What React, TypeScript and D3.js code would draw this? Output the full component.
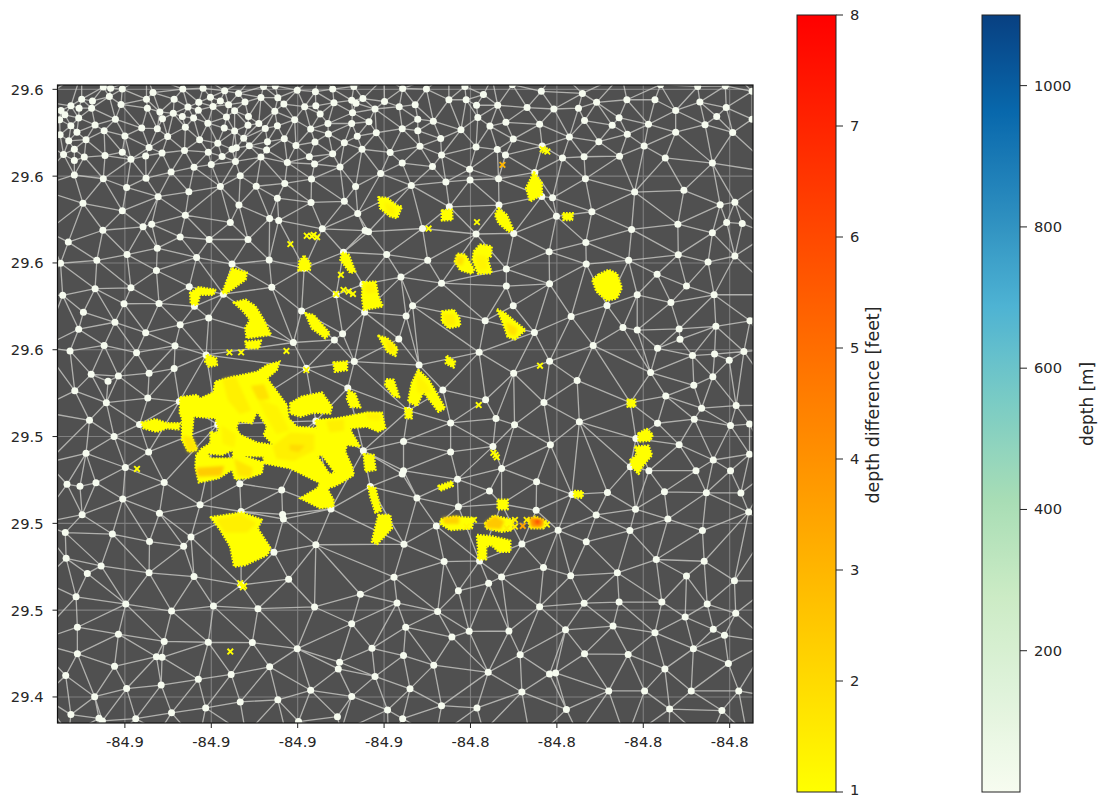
import React from "react";
import * as d3 from "d3";

// Positions are milli-degree offsets from (-84.9, 29.5).
const LON0 = -84.9;
const LAT0 = 29.5;
const lonLimits = [-84.9356, -84.7746];
const latLimits = [29.431, 29.6515];
const lonTicks = [-84.92, -84.9, -84.88, -84.86, -84.84, -84.82, -84.8, -84.78];
const latTicks = [29.44, 29.47, 29.5, 29.53, 29.56, 29.59, 29.62, 29.65];
const diffTicks = [1, 2, 3, 4, 5, 6, 7, 8];
const depthTicks = [200, 400, 600, 800, 1000];
const diffRange = [1, 8];
const depthRange = [0, 1100];
const nodeDepth = 8;

const nodesNorthWest = [
-25,150.8,-23.3,150.4,-20.6,150.1,-23.6,147.5,-13.5,148.9,-6.6,150.1,-1.9,150.4,3.1,149.5,6.3,148.6,12.1,151,14.8,151.2,19.9,149.7,24.1,149.2,28.1,150.1,33,151,
-30,146.6,-27.5,146,-32.5,144.3,-30.6,143.5,-27.7,143.5,-20.9,144.8,-15,146.6,-14.8,143.5,-8.6,146.6,-5.4,143.9,-2.9,145.5,-0.2,147.3,2.1,146,4,144.7,0.4,144.1,7.8,145.6,11.5,147.2,15.4,147.1,16.8,144.9,14.7,142.4,21.6,144,24.2,144.3,28.4,145.4,32.5,146.2,33.5,145.2,35.1,146.8,40.1,145.8,43.5,144,
-34.8,142.7,-33.9,141.2,-35.1,139.5,-30.7,140.1,-26.9,137.7,-22.2,139.7,-11.9,142.2,-8.8,141.7,-3,142.8,-6.7,140.6,-11.3,139.8,-4.1,140.1,3.5,140.4,5.4,142.6,8.6,140.6,25.2,141.5,32.7,141.9,37.9,143.2,19.3,139.5,8.5,137.6,11,138.2,-0.8,138.3,12.5,136.5,15.3,137.4,27,138.2,32.5,138.2,36.5,138.8,
-32.5,137.4,-35,134.3,-31.1,135.2,-24.8,135.7,-16.1,136.6,-12.5,136.4,-6,136.9,3,136.6,5.4,135.6,23,136.3,27.1,134.6,33.8,133.8,38.2,135,-20,133.9,-10.1,133.7,7.5,133.1,16.9,132.9,13,131.9,-2.7,132.6,
-29,132.6,-33,132.2,-31.7,129.3,-34.2,127.5,-29.4,126.6,-31.7,125.4,-24.6,127.1,-20.6,128.3,-18.6,125.8,-14.4,129.9,-15.2,127,-11.4,128,-6.2,128.9,1.5,131.4,-0.7,128.3,2.5,126.8,4.8,129.3,5.8,129.8,8.8,130.5,12.8,129,11.5,126.6,19.6,130.6,24,131.8,30.8,131.5,34.9,129.3,28.1,127.7,22.7,126.7,41.4,128.2,
5.6,125.1,0,124,-4,123.1,17.6,124.7,23.9,124.2,29.8,123.2,-9.3,121.4,-31.7,120.4,-25,119.1,-15.1,119.3,6.7,120.1,39.2,120.9,23.2,119,17,117.5,10.4,116.5,2.1,116.4,-19.6,116.1,-5.2,114.6,33.4,116.4,
-12.3,112.9,15.3,112.4,-29.7,110.6,6.4,110,23.1,110.9,30.8,111.3,-20.6,108,-6,106.5,33.9,107.1,13.5,105.4,15.6,104.7,4.4,104,-13.8,103.4,-15.8,102.5,-25.1,101.3,35.6,101.2,36.4,100.8,25.7,101.8,-7.2,99,-0.5,98.1,8.5,98.1,-33.1,97.2,-12.5,95.1,-19.5,92.9,-3.4,91.9,-26.5,90.9,13.4,91,4.8,89.6,-34.9,89.9,-12.7,87.4,30.6,93.7,40.6,92.9,21.5,88.2,
-26.9,81.1,-18.6,81.4,-5.1,81.8,14,81.6,35.1,82.6,-34.4,78.8,-20.2,75.9,-12.1,76,2.8,79.2,28.9,79,-3.9,75,-29.6,73,20.9,73.4,35.5,73,-0.6,71,
];

const nodesNorthEast = [
44.3,150.3,49.8,150.1,58.7,151,63,148.2,69.7,151.6,76.4,149.3,85.9,148.6,104,151.6,112.6,151,119,151.2,125.2,149.3,
55,146.4,59,146.4,47.2,144.7,61.4,144.5,66.3,144.5,73.1,143.7,79.3,143.2,85,143.5,89.2,145.5,96.2,146.4,102.7,146.4,107.5,142.7,113.1,145.6,119.2,143.7,117,140.6,
47.8,139.7,51.4,139,61.7,140.3,64.5,137.3,68.2,138.6,76,137.9,86.4,139.2,92.8,137.6,94.4,140.2,101.2,137.9,114.3,137.8,125.2,139.7,
44.2,136.4,47.8,135.7,57.8,136,53.1,133,69.9,132.8,82.9,133.5,89.7,131.9,96.3,134.5,107.5,135.2,120.7,135.1,
48.3,130.3,53.3,127.3,61.3,130.1,66.2,129.2,68.1,127.3,76.6,130.4,81.3,126.3,86.3,126.7,94.5,126.9,100.2,130.4,105.1,126.3,116,124.5,
44.2,124.5,51.2,123.3,59.8,122.4,74.9,121.3,66.5,119.1,59.9,118.7,54.3,118,46.3,116.8,86.6,119.1,98,114.5,109.4,115.1,
76.5,113,79,112.5,66.6,110,55.1,109.4,117.8,110.1,121.2,111,79.9,106.1,88.1,107.7,97.3,101.6,108,103.4,116,100.4,119.3,104,122.9,103.6,
48.9,101.9,61.3,100,70,100.2,86.7,97.1,78.2,93.9,108.1,92.8,121.2,92.4,50.1,90.9,86.8,89.6,96.6,90.9,115,90.3,43.9,85.1,103.2,86.1,53.3,83,68.3,87.9,68.3,82,78.3,82.8,110,82,98.6,79,116.4,79,106.4,76.3,91.6,75.3,46.6,75.2,69.9,75.2,83.3,71.5,45.1,71.7,
];

const nodesMiddleWest = [
-30.7,67.1,-22.3,69.5,-15.2,65.9,-7.2,68.6,30.4,65.5,43.4,63.7,19,62.5,28.5,63.4,-24.8,61.5,-32.7,59.6,-17.3,59,-8.4,61.4,-1.2,58.2,-27.8,51.5,-14.4,51.9,-8.6,53.5,-23.9,49.1,-21.5,50.9,33.1,55.9,22,53.6,-31.6,45.8,-14.7,43.3,-24.3,41.7,31.6,46.8,-28.2,35.6,-7.4,42.1,-16.6,34.2,-22.5,30,24.2,35.4,1.5,34.2,-29,24.2,-14.5,24.7,35.2,25.1,-19.9,19.3,-33.4,13.5,-30.4,12.8,-26.7,14,-10.9,14.1,6.6,13.7,16.3,11.5,36.8,12.7,-2.6,6.4,-20.5,8.4,-12,3.5,-29.9,3,6.9,4.1,16.5,3.1,16.7,1.5,27.7,5,-33.8,-3.2,-22.9,-3.7,-4.7,-4.7,-14.3,-6.3,-6.4,-7.9,24.2,-7.4,14.5,-10,
];

const nodesMiddleEast = [
63.4,70,74.8,66,95.3,67.7,98.6,66.8,108.3,67.2,116.8,68.1,108.5,63.6,103.3,60.5,88.4,61.5,124.7,70,62,59.1,111.4,58,116.5,58.5,123.3,59.4,119.9,56.4,48.1,54.7,78.3,56,70,51.9,101.7,52.1,84.7,49.4,116.1,50.7,111.7,47.7,53.6,46.1,105.2,44,63.5,42.7,77,41.8,97,41.7,113.5,39.8,121.5,40.7,45.6,39,65.9,36.2,55.4,34.7,70.2,34.1,85.2,35.1,103.3,34.6,111.8,36,120.2,33.8,124.6,34.3,44.5,28.3,78.5,27.2,65.2,26.6,98.3,29.3,108.3,27.2,55.4,24.7,124.6,23.9,116.2,21.9,67.2,19,44.5,18.2,44.2,17.1,97,19.6,101.3,18.2,112.2,18.2,120.2,18.2,57,15.2,75.3,14.4,64.4,11.2,83.5,10,91.7,10.7,104.9,10.9,114.6,10.6,122.6,10.5,47.6,8.8,57.2,5.7,75.2,4.5,98.2,4.9,89.1,2.9,105.7,1.5,124.4,3.9,52.1,-0.9,80.3,-2.4,96.9,-2.5,113.7,-2.5,86.8,-6.4,71.9,-7.1,44.6,-7.2,67.2,6.7,
];

const nodesSouthWest = [
-33.6,-12.1,-25.5,-14.7,-28.7,-17.3,-14.4,-17.1,-4,-18.4,17.9,-19.3,42.3,-18.6,6.9,-21.3,34.5,-24.5,-31.3,-25.4,-19.8,-27.9,0.5,-28.6,10.8,-29.5,23.9,-28.9,-9.2,-30.3,43,-27.5,-31,-35.9,32.5,-34.7,-21.5,-38.3,-10.9,-40.8,-0.7,-41.1,9.5,-41.2,19.9,-43.3,37.2,-43.2,-31,-45.1,-12.7,-46.1,-11.4,-46.3,-22.4,-49.4,29.7,-48,29.4,-50.3,13.5,-49.6,-33.7,-52.6,4.6,-52.2,-3,-53.9,37.9,-52.9,-11.6,-55.9,-19.6,-57.1,23,-57.7,-27,-59.9,32.5,-59.8,6.7,-61.7,15.4,-61,-1.3,-63.8,-32.5,-66.1,-26,-67.4,-25.2,-68.3,-17.5,-67.5,-9.2,-65.5,29.2,-66.8,40.8,-64.5,20.2,-68.5,
];

const nodesSouthEast = [
53.9,-13.2,62.1,-13,76.9,-15.3,83.2,-18.1,94,-17.1,103,-12.5,114.1,-13.1,110,-18.2,121.1,-19.8,67.2,-18.5,64.2,-20.7,57.2,-23.3,86.3,-27.6,94.4,-27.2,104.3,-27.2,114.8,-27.9,76,-28.8,52.4,-30.5,121.4,-31.1,109.7,-32.4,45,-35.9,59.7,-37.3,68.9,-37.2,55.7,-39.3,82,-36.8,93,-35.5,102.7,-37.8,116.2,-36.6,118.8,-38.7,111.6,-43.3,44.5,-45.7,71.5,-45.4,86.4,-45.1,96.5,-45.3,119.7,-48.4,51.5,-49,105,-50.3,64.1,-51.5,78.3,-52.1,79.7,-51.7,46,-57.2,71.9,-58.3,92,-57.9,100.3,-57.9,111.1,-57.9,122.1,-57.9,53.3,-63,61.5,-63.8,82.2,-64.3,106.1,-64.2,118.2,-64.7,44.3,-67.5,
];

// Mesh nodes just outside the visible window (estimated from where the edges leave it).
const nodesOutside = [
-33,-73,-23,-75,-12,-72,-3,-76,8,-73,18,-77,30,-72,41,-75,52,-74,63,-72,74,-76,85,-73,96,-75,106,-72,115,-76,124,-73,
130,-60,129,-41,131,-20,129,-2,130,19,132,41,129,60,131,79,129,100,131,121,129,141,
-30,156,-15,155,-5,157,10,155,25,156,40,154,55,156,65,154,80,157,95,155,110,156,122,154,
-39,-60,-41,-41,-39,-20,-40,0,-38,21,-41,39,-39,61,-40,79,-38,101,-41,116,-38,131,-40,146,
];

const mainPatch = [-7.2,43.6,-3.3,44.4,-2.6,43.2,0.5,45.2,0.9,49,5.2,50.7,10.6,52.4,12.9,54.7,15.8,55.9,15.2,53,12.9,50.1,15.2,45.5,17.5,40.9,17.9,36.3,19.8,33.4,24.5,32.9,24.1,35.7,29.1,36.3,36,38.3,39.5,38.3,40.3,32.9,38.7,31.7,36,33.4,32.2,32.9,32.6,31.1,34.5,26.5,31.4,27.1,31,24.8,32.6,19.6,33,16.7,29.9,13.9,28.3,12.7,26.8,12.1,28.3,8.1,28.3,5.8,25.2,5.2,20.6,8.7,24.5,12.1,25.2,13.9,22.1,16.2,18.3,19,12.1,20.8,11.7,17.3,8.2,15.6,5.5,15.2,4.8,18.5,1.7,15.6,-2.9,14.1,-3.7,19.6,-3.5,23.6,-2.2,25.9,-0.2,27.7,-0.2,31.7,1.3,31.1,1.7,32.9,0.9,36.3,-4.1,36.9,-4.5,30,-3.3,25.4,-5.3,24.8,-6.8,28.8,-6.8,36.3,-7.3,38];
const mainHoles = [
[6.3,35.2,9.4,34.6,10.6,38.6,12.9,33.4,12.1,30.6,14.4,27.1,10.6,27.9,6.7,30.6,5.8,32.9],
[-1,24.2,2.5,23.6,5,25.4,5,22.5,-0.2,22.5],
[7.5,23.3,12.1,23.1,12.1,21,9.8,22.1],
[24.6,23.2,25.6,23.6,28.6,17.6,27.4,17,25.8,20.6],
];

// Flooded patch outlines: all of them sit at the lowest depth difference.
const patchLevel = 1;
const patches = [
[38.7,112.7,40.7,112.4,43,109.8,44.1,109.5,43,105.5,41.4,106.1,39.1,108.9],
[21.5,92.5,22.9,89.9,22.8,87.6,20.2,87.4,20.4,90.5],
[30.3,93.6,31.8,92.8,33.3,87.1,32.2,86.5,29.9,91.1],
[35.1,83.3,38,83.5,38.7,78.4,39.7,75,35.3,73.8,34.9,78.4],
[4.8,88.2,8.2,86.7,7.9,84.2,3.6,79.6,2.5,79.6],
[-4.9,79.6,-2.9,81.6,0.9,80.7,0.5,79,-2.6,79,-3.3,75.5,-4.7,75.9],
[5.2,76.3,7.9,77.3,10.2,75,12.1,70.4,13.8,65.2,8.2,64,7.9,67.5,9,70.4,7.1,73.8],
[21.8,72.6,23.7,72,27.4,65.7,26.4,64,23.3,67.4],
[74.7,121.3,76.5,117.6,76.5,113.6,73.8,111.3,72.9,115.9],
[53.4,108.1,55.7,108.4,55.8,104.9,53.4,104.7],
[66.5,108.9,68.4,106.6,69.9,101.5,68.8,100.9,66.5,103.8,65.7,106.6],
[81.4,107.2,83.7,107.2,83.5,104.9,81.5,104.9],
[57,93.2,58.8,92.8,60.8,87.6,60.3,86.3,57.6,87.6,56.4,90.5],
[62.2,96.3,64.9,95.7,64.7,92.3,63.9,91.7,64.9,86.5,61.8,86.3,60.5,91.1,60.8,94],
[89.6,85.9,92,87.6,93.9,86.3,95,81.3,93.9,77.8,91.6,77,89.2,80.1,88.2,84.2],
[53.4,73.2,56.1,73.8,57.4,70.9,57.6,68.3,54.9,67.5,53.4,69.8],
[66.1,74,68,72.6,70.3,69.7,72.7,66.8,70.3,63.6,68.6,64.5,67.6,69.1],
[54.5,57.9,56.4,55.9,56.1,53.9,54.3,55.3],
[47.9,53,50.3,49.6,54.1,39.8,52.6,38.6,49.1,45.5,47.6,40.6,45.6,42.1,46.4,48.4],
[44.9,39.8,46.4,39.4,46.4,36.3,45,36.5],
[96.4,42.7,98.1,42.7,98.1,40.3,96.4,40.3],
[98.9,31.1,100.8,32.6,102.2,30.6,101.6,28.6,98.9,28.3],
[98.1,26.5,101.2,26.8,102,23.6,99.7,19.6,98.9,17.1,97.4,19.6,97,21.9,98.5,23.6],
[84,11.2,86,11,85.9,8.9,84,9],
[52.6,12.9,55.7,14.5,55.9,13,53,11.3],
[66.3,8.1,68.6,8.1,68.6,4.9,66.3,4.9],
[53.1,1.4,56.4,2.3,60.7,1.8,60.3,-1.7,55.3,-2.3,53.1,-0.2],
[63.4,0,65.3,2.6,69.9,1.2,69.6,-2.3,67.2,-2.9,63.6,-1.7],
[73.4,1.2,75,2.3,77.7,0.6,76.9,-1.7,73.8,-1.7],
[61.5,-4,65.3,-4.6,69.2,-6,69.2,-9.8,66.5,-9.8,64.9,-7.5,63.6,-8,63.6,-12.4,61.8,-12.4,61.8,-9.2],
[-1,58.2,1.1,57.1,1.3,54.7,-0.6,54.2,-1.4,55.9],
[7.9,62.8,11.5,63.2,11,60.5,8.2,60.5],
[28.3,55.6,31.4,55.9,31.4,53,28.6,52.4],
[38.7,64.8,40.7,64,43.1,60.5,42.6,57.9,40.7,59.4],
[40.5,49.8,42.2,49.6,43.5,43.6,42.2,44,40.3,47.8],
[31.8,45.9,33.3,44.7,34.5,40.1,32.2,40.3,31.4,43.2],
[18.3,41.5,21,43.8,25.6,45.2,27.9,40.3,27.5,38,23.7,38.3,20.6,36.9,18.3,38],
[-16.1,34.8,-13,36,-10.3,34.6,-7.2,34.6,-7.6,32.5,-10.3,32.9,-12.6,31.7,-15.7,32.9],
[36.4,12.7,38,12.1,39.3,4.4,38,3.7,36.8,9.3],
[35.3,23.9,37.6,23.6,38,18.5,35.7,17.9],
[38.7,2.9,41.4,2.9,41.8,-1.7,38.4,-7.1,37.2,-6.3],
[-0.1,2.1,7.1,3.7,11.7,1.2,10.7,-1.7,13.7,-8.6,12.9,-10.9,7.9,-14.4,5.3,-14.9,4.4,-8,2.1,-2.3],
];

// Deeper zones inside the patches: level, then outline.
const zoneLevels = [1.3,1.3,1.3,1.8,1.4,1.8,1.3,2.2,2.5,4,6,1.5,1.4,1.8,1.3,1.4,2,1.3,2.4,1.7,1.7,1.4,1.3,1.4];
const zones = [
[40.3,110.7,42.2,108.9,42.2,106.6,40.8,107.8],
[35.7,82.5,37.6,82.5,38,80.1,36,79.6],
[61.1,92.3,63.4,92.3,63.9,88.2,62.2,87.6],
[57,92.3,58.4,91.7,58,89.4,56.8,89.9],
[53.7,72.1,56.1,72.1,56.4,68.6,54.5,68.6],
[68.4,69.1,70.7,67.4,70.3,65.1,69,65.7],
[47.6,51.3,49.9,47.8,50.6,45.5,47.9,45.5],
[53.7,1.8,57.2,2.3,57.2,0,54.1,0],
[63.6,0.3,65.7,2.3,67.6,0.6,66.9,-1.7,63.9,-1.4],
[73.8,1.8,76.9,1.2,76.5,-1.1,74.2,-1.1],
[75,1.2,76,1.2,75.7,-0.2,75.2,0],
[40.3,63.4,42.2,61.7,42.2,58.8,41.1,59.9],
[2.8,49.6,5.5,50.5,9,39.2,6.7,38,4,42.7],
[9.4,47.3,12.1,47.8,13.3,43.2,11,42.7],
[11,42.7,15.2,40.3,17.9,32.3,15.2,31.1,12.9,36.9],
[14.4,26.5,18.3,31.1,23.7,30.6,23.7,25.4,19.1,21.9,15.2,22.5],
[18.3,27.1,21.4,26.8,20.2,24.8,18.3,25.4],
[2.5,33.4,5.5,30.6,5.2,26.5,2.8,27.7],
[-3.3,19,2.8,19.6,2.1,16.7,-2.9,16.4],
[5.5,21.9,9.4,19,9,16.2,6.3,16.7],
[-6.4,30,-4.5,29.4,-3.3,25.4,-5.3,24.8],
[26.8,35.2,30.6,35.7,30.6,32.3,27.5,31.7],
[36,38,39.1,37.5,38.7,35.7,36.4,36.3],
[1.3,1.2,6.7,2.9,10.2,0,8.2,-2.9,3.2,-2.9],
];

// Lone soundings drawn as x marks: offsets plus level.
const crossLon = [22.1,23.7,24.5,23.3,18.3,30,28.9,30.6,31.8,32.8,61.5,50.3,77.2,77.8,76.7,67.4,76.1,61.9,65.8,65.3,66.1,60.8,59.1,70.3,70.3,72.1,73,77.7,68.4,-17.2,4.2,6.9,17.4,22,6.7,7.6,7.3,4.4];
const crossLat = [99.4,99.7,98.9,99.2,96.5,85.9,79.3,80.7,80.1,79.3,104.1,101.9,128.9,128.5,129.3,123.9,54.5,40.9,23.6,24.4,22.8,1.2,-1.1,1.2,-1.1,-0.9,1.2,-0.4,-1.7,18.8,59.1,59.1,59.6,53,-20.7,-21.6,-22.1,-44.3];
const crossLevel = [1,1,1,1,1,1,1,1,1,1,1,1,1,1,1,3,1,1,1,1,1,1,1.2,1.4,1.4,3.5,1.5,1.2,1.4,1,1,1,1,1.1,1,1,1,1];

const pairs = (flat: number[]) => {
  const out: [number, number][] = [];
  for (let i = 0; i < flat.length; i += 2) out.push([flat[i], flat[i + 1]]);
  return out;
};

const W = 1100;
const H = 798;
const plot = { l: 57.5, r: 753, t: 85, b: 723 };
const barTop = 15;
const barBottom = 792;
const bar1 = { l: 797, r: 836 };
const bar2 = { l: 982, r: 1020 };
const FONT = "DejaVu Sans";
const TXT = "#262626";
const FS = 14.7;

const x = d3.scaleLinear().domain(lonLimits).range([plot.l, plot.r]);
const y = d3.scaleLinear().domain(latLimits).range([plot.b, plot.t]);
const diffY = d3.scaleLinear().domain(diffRange).range([barBottom, barTop]);
const depthY = d3.scaleLinear().domain(depthRange).range([barBottom, barTop]);

const autumnR = (d: number) => {
  const t = Math.min(1, Math.max(0, (d - diffRange[0]) / (diffRange[1] - diffRange[0])));
  return d3.rgb(255, 255 * (1 - t), 0).formatHex();
};
const gnbu9 = d3.schemeGnBu[9] as string[];
const gnbuScale = d3
  .scaleLinear<string>()
  .domain(gnbu9.map((_, i) => i / 8))
  .range(gnbu9);
const depthColor = (d: number) => gnbuScale((d - depthRange[0]) / (depthRange[1] - depthRange[0]));

const px = ([u, v]: [number, number]): [number, number] => [x(LON0 + u / 1000), y(LAT0 + v / 1000)];
const ring = (flat: number[]) => (d3.line()(pairs(flat).map(px)) as string) + "Z";

const allNodes = [
  ...pairs(nodesNorthWest),
  ...pairs(nodesNorthEast),
  ...pairs(nodesMiddleWest),
  ...pairs(nodesMiddleEast),
  ...pairs(nodesSouthWest),
  ...pairs(nodesSouthEast),
];
const outside = pairs(nodesOutside);
const meshPoints = [...allNodes, ...outside].map(px);
const meshPath = d3.Delaunay.from(meshPoints).render();

const gradStops = d3.range(0, 1.0001, 1 / 32);

const Patch = ({ d, level, jag = true }: { d: string; level: number; jag?: boolean }) => {
  const c = autumnR(level);
  return (
    <path
      d={d}
      fill={c}
      fillRule="evenodd"
      stroke={c}
      strokeWidth={jag ? 2.6 : 1.5}
      strokeDasharray={jag ? "1.8 1.2" : undefined}
      strokeLinejoin="round"
    />
  );
};

export default function App() {
  return (
    <svg
      width={W}
      height={H}
      viewBox={`0 0 ${W} ${H}`}
      style={{ position: "absolute", left: 0, top: 0, display: "block", background: "#fff" }}
      fontFamily={FONT}
    >
      <defs>
        <clipPath id="plotClip">
          <rect x={plot.l} y={plot.t} width={plot.r - plot.l} height={plot.b - plot.t} />
        </clipPath>
        <filter id="soft" x="-5%" y="-5%" width="110%" height="110%">
          <feGaussianBlur stdDeviation="0.5" />
        </filter>
        <filter id="softZone" x="-30%" y="-30%" width="160%" height="160%">
          <feGaussianBlur stdDeviation="1.8" />
        </filter>
        <linearGradient id="diffGrad" x1="0" y1="1" x2="0" y2="0">
          {gradStops.map((t) => (
            <stop key={t} offset={t} stopColor={autumnR(diffRange[0] + t * (diffRange[1] - diffRange[0]))} />
          ))}
        </linearGradient>
        <linearGradient id="depthGrad" x1="0" y1="1" x2="0" y2="0">
          {gradStops.map((t) => (
            <stop key={t} offset={t} stopColor={gnbuScale(t)} />
          ))}
        </linearGradient>
      </defs>

      <rect x={plot.l} y={plot.t} width={plot.r - plot.l} height={plot.b - plot.t} fill="#505050" />
      <g clipPath="url(#plotClip)">
        <g filter="url(#soft)">
          {lonTicks.map((t) => (
            <line key={t} x1={x(t)} x2={x(t)} y1={plot.t} y2={plot.b} stroke="#808080" strokeWidth={1.1} />
          ))}
          {latTicks.map((t) => (
            <line key={t} x1={plot.l} x2={plot.r} y1={y(t)} y2={y(t)} stroke="#808080" strokeWidth={1.1} />
          ))}
          <path d={meshPath} fill="none" stroke="#c8c8c4" strokeOpacity={0.8} strokeWidth={1.3} />
          {allNodes.map((n, i) => {
            const [cx, cy] = px(n);
            return <circle key={i} cx={cx} cy={cy} r={3.5} fill={depthColor(nodeDepth)} />;
          })}
          <path
            d={[mainPatch, ...mainHoles].map(ring).join("")}
            fill={autumnR(1)}
            fillRule="evenodd"
            stroke={autumnR(1)}
            strokeWidth={2.2}
            strokeDasharray="1.8 1.2"
          />
          {patches.map((p, i) => (
            <Patch key={i} d={ring(p)} level={patchLevel} />
          ))}
        </g>
        <g filter="url(#softZone)">
          {zones.map((p, i) => (
            <Patch key={i} d={ring(p)} level={zoneLevels[i]} jag={false} />
          ))}
        </g>
        <g filter="url(#soft)">
          {crossLon.map((u, i) => {
            const [cx, cy] = px([u, crossLat[i]]);
            const r = 2.8;
            return (
              <path
                key={i}
                d={`M${cx - r},${cy - r}L${cx + r},${cy + r}M${cx - r},${cy + r}L${cx + r},${cy - r}`}
                stroke={autumnR(crossLevel[i])}
                strokeWidth={1.9}
                fill="none"
              />
            );
          })}
        </g>
      </g>
      <rect x={plot.l} y={plot.t} width={plot.r - plot.l} height={plot.b - plot.t} fill="none" stroke="#111" strokeWidth={1.2} />

      {lonTicks.map((t) => (
        <g key={t}>
          <line x1={x(t)} x2={x(t)} y1={plot.b} y2={plot.b + 5} stroke="#222" strokeWidth={1} />
          <text x={x(t)} y={plot.b + 24} textAnchor="middle" fontSize={FS} fill={TXT}>
            {t.toFixed(1)}
          </text>
        </g>
      ))}
      {latTicks.map((t) => (
        <g key={t}>
          <line x1={plot.l - 5} x2={plot.l} y1={y(t)} y2={y(t)} stroke="#222" strokeWidth={1} />
          <text x={plot.l - 14} y={y(t) + 5.5} textAnchor="end" fontSize={FS} fill={TXT}>
            {t.toFixed(1)}
          </text>
        </g>
      ))}

      <rect x={bar1.l} y={barTop} width={bar1.r - bar1.l} height={barBottom - barTop} fill="url(#diffGrad)" stroke="#222" strokeWidth={1} />
      {diffTicks.map((t) => (
        <g key={t}>
          <line x1={bar1.r} x2={bar1.r + 7} y1={diffY(t)} y2={diffY(t)} stroke="#222" strokeWidth={1} />
          <text x={bar1.r + 14} y={diffY(t) + (t === 1 ? 3 : 5)} fontSize={FS} fill={TXT}>
            {t}
          </text>
        </g>
      ))}
      <text transform="translate(873,405) rotate(-90)" textAnchor="middle" dy="0.35em" fontSize={17.4} fill={TXT}>
        depth difference [feet]
      </text>

      <rect x={bar2.l} y={barTop} width={bar2.r - bar2.l} height={barBottom - barTop} fill="url(#depthGrad)" stroke="#222" strokeWidth={1} />
      {depthTicks.map((t) => (
        <g key={t}>
          <line x1={bar2.r} x2={bar2.r + 7} y1={depthY(t)} y2={depthY(t)} stroke="#222" strokeWidth={1} />
          <text x={bar2.r + 14} y={depthY(t) + 5} fontSize={FS} fill={TXT}>
            {t}
          </text>
        </g>
      ))}
      <text transform="translate(1087.5,404) rotate(-90)" textAnchor="middle" dy="0.35em" fontSize={16.9} fill={TXT}>
        depth [m]
      </text>
    </svg>
  );
}
